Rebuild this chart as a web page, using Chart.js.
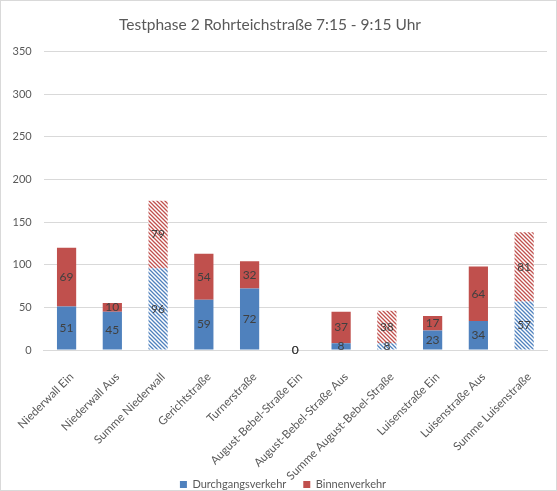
<!DOCTYPE html>
<html>
<head>
<meta charset="utf-8">
<script src="https://cdn.jsdelivr.net/npm/chart.js@4/dist/chart.umd.min.js"></script>
<style>
  html, body { margin: 0; padding: 0; background: #fff; }
  #wrap { position: absolute; left: 0; top: 0; width: 557px; height: 491px; box-sizing: border-box; border: 1px solid #d9d9d9; }
  canvas { display: block; }
</style>
</head>
<body>
<div id="wrap"><canvas id="c"></canvas></div>
<script>
const categories = [
  "Niederwall Ein", "Niederwall Aus", "Summe Niederwall", "Gerichtstraße", "Turnerstraße",
  "August-Bebel-Straße Ein", "August-Bebel-Straße Aus", "Summe August-Bebel-Straße",
  "Luisenstraße Ein", "Luisenstraße Aus", "Summe Luisenstraße"
];
const durchgangsverkehr = [51, 45, 96, 59, 72, 0, 8, 8, 23, 34, 57];
const binnenverkehr     = [69, 10, 79, 54, 32, 0, 37, 38, 17, 64, 81];
const summeIndices = [2, 7, 10];
const yTicks = [0, 50, 100, 150, 200, 250, 300, 350];

const BLUE = "#4F81BD";
const RED = "#C0504D";
const FONT = "Lato, 'Open Sans', sans-serif";

function hatch(color) {
  const s = 4;
  const cv = document.createElement("canvas");
  cv.width = s; cv.height = s;
  const g = cv.getContext("2d");
  g.fillStyle = "#ffffff";
  g.fillRect(0, 0, s, s);
  g.strokeStyle = color;
  g.lineWidth = 1.3;
  g.beginPath();
  g.moveTo(-1, -1); g.lineTo(s + 1, s + 1);
  g.moveTo(-1, s - 1); g.lineTo(1, s + 1);
  g.moveTo(s - 1, -1); g.lineTo(s + 1, 1);
  g.stroke();
  return g.createPattern(cv, "repeat");
}
const blueHatch = hatch(BLUE);
const redHatch = hatch(RED);

const valueLabels = {
  id: "valueLabels",
  afterDatasetsDraw(chart) {
    const ctx = chart.ctx;
    ctx.save();
    ctx.font = "12px " + FONT;
    ctx.fillStyle = "#404040";
    ctx.textAlign = "center";
    ctx.textBaseline = "middle";
    chart.data.datasets.forEach((ds, di) => {
      const meta = chart.getDatasetMeta(di);
      meta.data.forEach((el, i) => {
        const y = (el.y + el.base) / 2;
        ctx.fillText(String(ds.data[i]), el.x, y);
      });
    });
    ctx.restore();
  }
};

// let the rotated category labels run below the axis box; nudge title/legend like the original
const layoutTweaks = {
  id: "layoutTweaks",
  afterLayout(chart) {
    if (chart.legend) { chart.legend.left += 9; chart.legend.right += 9; }
    if (chart.titleBlock) { chart.titleBlock.left -= 4; chart.titleBlock.right -= 4; }
  },
  beforeDraw(chart) {
    const x = chart.scales.x;
    if (x) x._computeLabelArea = () => undefined;
  }
};

new Chart(document.getElementById("c"), {
  type: "bar",
  data: {
    labels: categories,
    datasets: [
      {
        label: "Durchgangsverkehr",
        data: durchgangsverkehr,
        backgroundColor: (c) => (c.dataIndex !== undefined && summeIndices.includes(c.dataIndex)) ? blueHatch : BLUE,
        barPercentage: 0.42,
        categoryPercentage: 1.0
      },
      {
        label: "Binnenverkehr",
        data: binnenverkehr,
        backgroundColor: (c) => (c.dataIndex !== undefined && summeIndices.includes(c.dataIndex)) ? redHatch : RED,
        barPercentage: 0.42,
        categoryPercentage: 1.0
      }
    ]
  },
  options: {
    responsive: true,
    maintainAspectRatio: false,
    animation: false,
    layout: { padding: { left: 0, right: 9, top: 0, bottom: -10 } },
    plugins: {
      title: {
        display: true,
        text: "Testphase 2 Rohrteichstraße 7:15 - 9:15 Uhr",
        color: "#595959",
        font: { family: FONT, size: 15.5, weight: "normal" },
        padding: { top: 15, bottom: 17 }
      },
      legend: {
        position: "bottom",
        labels: {
          boxWidth: 7,
          boxHeight: 7,
          color: "#595959",
          font: { family: FONT, size: 11 },
          padding: 17
        }
      },
      tooltip: { enabled: false }
    },
    scales: {
      x: {
        stacked: true,
        grid: { display: false },
        border: { color: "#d9d9d9" },
        afterFit: (s) => { s.height = 112; },
        ticks: {
          color: "#595959",
          font: { family: FONT, size: 11.5 },
          minRotation: 45,
          maxRotation: 45,
          autoSkip: false,
          padding: 12,
          labelOffset: 5
        }
      },
      y: {
        stacked: true,
        min: 0,
        max: 350,
        afterBuildTicks: (s) => { s.ticks = yTicks.map(v => ({ value: v })); },
        afterFit: (s) => { s.width = 42; },
        grid: { color: "#d9d9d9", drawTicks: false },
        border: { display: false },
        ticks: {
          color: "#595959",
          font: { family: FONT, size: 11 },
          padding: 12
        }
      }
    }
  },
  plugins: [valueLabels, layoutTweaks]
});
</script>
</body>
</html>
